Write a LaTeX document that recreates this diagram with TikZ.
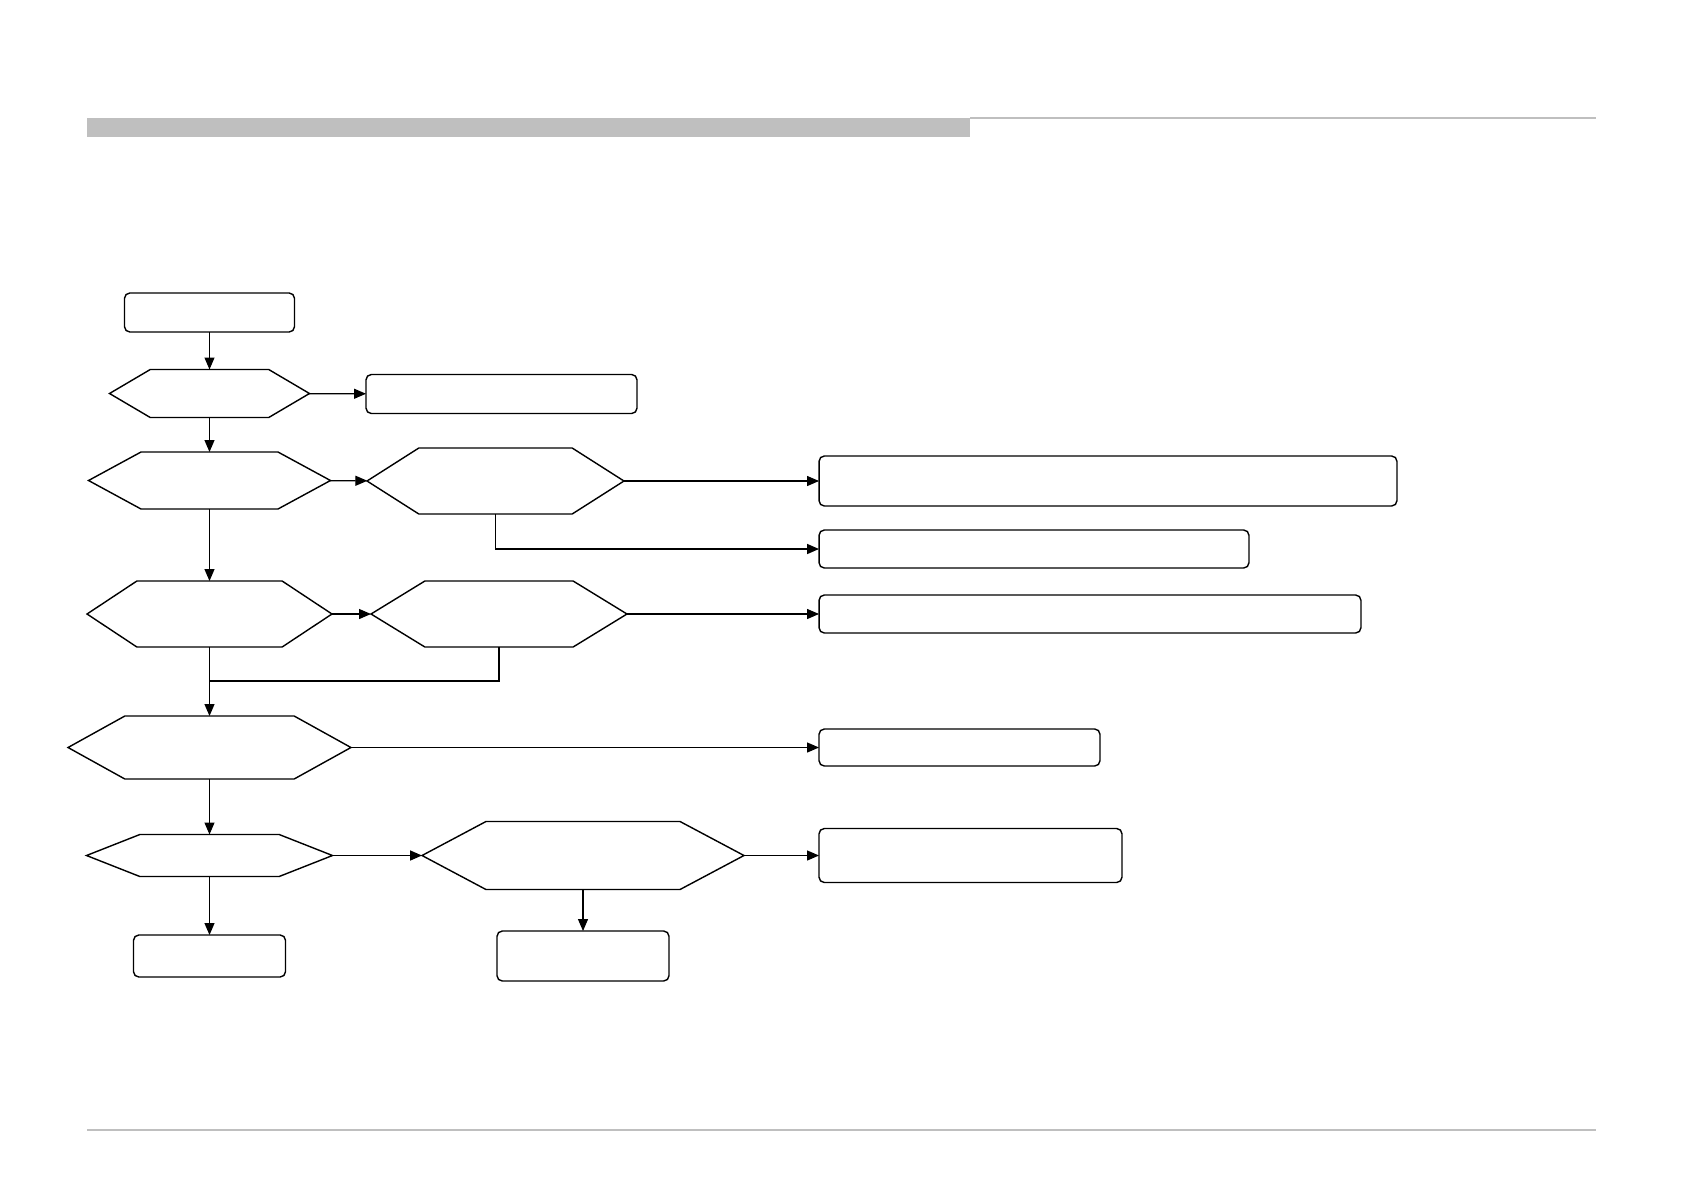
\documentclass[tikz,border=0pt]{standalone}
\usepackage{tikz}
\usetikzlibrary{arrows.meta, positioning, shapes.symbols}

\begin{document}
\begin{tikzpicture}[
    x=0.02cm, y=-0.02cm,
    act/.style={rectangle, draw=black, rounded corners=3pt, fill=white,
                line width=0.8pt, inner sep=0pt, outer sep=0pt},
    check/.style={signal, signal to=west and east, draw=black, fill=white,
                  line width=0.8pt, inner sep=0pt, outer sep=0pt},
    flow/.style={-{Triangle[length=2.4mm, width=2mm]}, line width=0.7pt},
    link/.style={line width=0.9pt},
    rule/.style={draw=black!25, line width=1.2pt},
]
\useasboundingbox (0,0) rectangle (1684,1191);

% header and footer
\fill[black!25] (87,118) rectangle (970,137);
\draw[rule] (970,118) -- (1596,118);
\draw[rule] (87,1130) -- (1596,1130);

% main column
\node[act, minimum width=3.4cm, minimum height=0.78cm] (start) at (209.5,312.5) {};
\node[check, minimum width=4cm, minimum height=0.96cm, signal pointer angle=61] (q1) at (209.5,393.5) {};
\node[check, minimum width=4.84cm, minimum height=1.14cm, signal pointer angle=57] (q2) at (209.5,480.5) {};
\node[check, minimum width=4.9cm, minimum height=1.32cm, signal pointer angle=67] (q4) at (209.5,614) {};
\node[check, minimum width=5.66cm, minimum height=1.26cm, signal pointer angle=58] (q6) at (209.5,747.5) {};
\node[check, minimum width=4.92cm, minimum height=0.84cm, signal pointer angle=43] (q7) at (209.5,855.5) {};
\node[act, minimum width=3.04cm, minimum height=0.84cm] (endl) at (209.5,956) {};

% second column
\node[check, minimum width=5.14cm, minimum height=1.32cm, signal pointer angle=65] (q3) at (495.5,481) {};
\node[check, minimum width=5.12cm, minimum height=1.32cm, signal pointer angle=63] (q5) at (499,614) {};
\node[check, minimum width=6.44cm, minimum height=1.36cm, signal pointer angle=56] (q8) at (583,855.5) {};
\node[act, minimum width=3.44cm, minimum height=1cm] (endr) at (583,956) {};
\node[act, minimum width=5.42cm, minimum height=0.78cm] (ra) at (501.5,394) {};

% results
\node[act, minimum width=11.56cm, minimum height=1cm] (rb) at (1108,481) {};
\node[act, minimum width=8.6cm, minimum height=0.76cm] (rc) at (1034,549) {};
\node[act, minimum width=10.84cm, minimum height=0.76cm] (rd) at (1090,614) {};
\node[act, minimum width=5.62cm, minimum height=0.74cm] (re) at (959.5,747.5) {};
\node[act, minimum width=6.06cm, minimum height=1.08cm] (rf) at (970.5,855.5) {};

\coordinate (join) at (209.5,681);

\draw[flow] (start) -- (q1);
\draw[flow] (q1) -- (ra);
\draw[flow] (q1) -- (q2);
\draw[flow] (q2) -- (q3);
\draw[flow] (q3.east) -- (rb);
\draw[flow, link] (q3.south) |- (rc.west);
\draw[flow] (q2) -- (q4);
\draw[flow] (q4) -- (q5);
\draw[flow] (q5.east) -- (rd);
\draw[link] (q5.south) |- (join);
\draw[flow] (q4) -- (q6);
\draw[flow] (q6.east) -- (re);
\draw[flow] (q6) -- (q7);
\draw[flow, link] (q7) -- (q8);
\draw[flow] (q8.east) -- (rf);
\draw[flow] (q8) -- (endr);
\draw[flow] (q7) -- (endl);

\end{tikzpicture}
\end{document}
